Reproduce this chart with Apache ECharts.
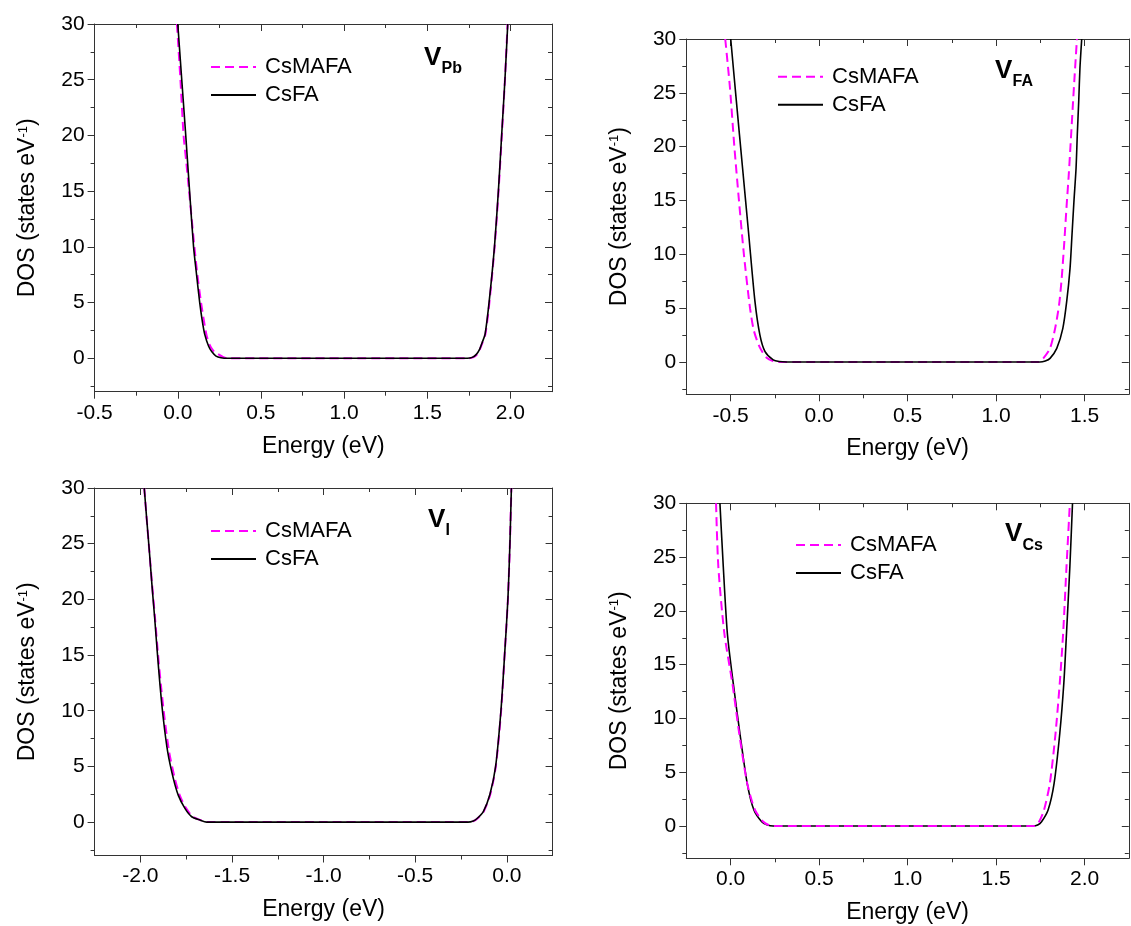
<!DOCTYPE html>
<html>
<head>
<meta charset="utf-8">
<script src="https://cdn.jsdelivr.net/npm/echarts@6/dist/echarts.min.js"></script>
<style>html,body{margin:0;padding:0;background:#fff}#c{width:1131px;height:926px}</style>
</head>
<body>
<div id="c"></div>
<script>
// ---------- DATA (Energy in eV, DOS in states/eV) ----------
// Panel V_Pb
const pbMafaE = [-0.005, 0.016, 0.035, 0.052, 0.068, 0.100, 0.118, 0.140, 0.158, 0.174, 0.192, 0.212, 0.234, 0.274, 0.300, 1.000, 1.745, 1.775, 1.800, 1.815, 1.832, 1.850, 1.875, 1.905, 1.929, 1.949, 1.967, 1.983];
const pbMafaD = [30, 25, 20, 17.5, 15, 10, 7.5, 5, 3.3, 2.0, 1.2, 0.7, 0.45, 0.1, 0, 0, 0, 0.08, 0.35, 0.75, 1.4, 2.2, 5.2, 10, 15.1, 20.2, 25, 30];
const pbFaE = [0.000, 0.024, 0.048, 0.071, 0.095, 0.113, 0.132, 0.148, 0.163, 0.185, 0.204, 0.230, 0.260, 0.300, 1.000, 1.740, 1.770, 1.795, 1.813, 1.830, 1.848, 1.873, 1.904, 1.928, 1.948, 1.967, 1.984];
const pbFaD = [30, 25, 20, 15, 10, 7.5, 5, 3.3, 2.1, 1.1, 0.6, 0.2, 0.05, 0, 0, 0, 0.08, 0.35, 0.75, 1.4, 2.2, 5.2, 10, 15.1, 20.2, 25, 30];
// Panel V_FA
const faMafaE = [-0.530, -0.503, -0.479, -0.452, -0.424, -0.390, -0.368, -0.334, -0.296, -0.260, -0.230, 0.500, 1.240, 1.267, 1.305, 1.333, 1.356, 1.371, 1.385, 1.399, 1.410, 1.421, 1.433, 1.444, 1.457];
const faMafaD = [30, 25.4, 20.1, 14.9, 9.9, 5.0, 2.9, 1.33, 0.4, 0.08, 0, 0, 0, 0.34, 1.27, 3.06, 5.3, 7.8, 11, 14.6, 17.2, 20.2, 23.6, 26.6, 30];
const faFaE = [-0.499, -0.467, -0.432, -0.397, -0.362, -0.334, -0.305, -0.259, -0.225, -0.183, 0.500, 1.248, 1.278, 1.305, 1.343, 1.377, 1.399, 1.418, 1.429, 1.440, 1.452, 1.459, 1.467, 1.474, 1.484];
const faFaD = [30, 24.2, 18.0, 11.8, 5.6, 2.5, 0.96, 0.19, 0.04, 0, 0, 0, 0.1, 0.34, 1.27, 3.1, 5.6, 8.7, 11.8, 14.9, 18.0, 21.1, 24.2, 27.3, 30];
// Panel V_I
const iMafaE = [-1.979, -1.966, -1.951, -1.936, -1.920, -1.905, -1.888, -1.868, -1.843, -1.812, -1.785, -1.750, -1.714, -1.672, -1.635, -1.000, -0.210, -0.182, -0.162, -0.126, -0.090, -0.060, -0.031, -0.012, 0.006, 0.017, 0.025];
const iMafaD = [30, 27.3, 24.3, 21.3, 18.3, 15.3, 12.3, 9.3, 6.3, 3.9, 2.4, 1.23, 0.48, 0.18, 0, 0, 0, 0.1, 0.3, 0.95, 2.5, 5, 10, 15, 20, 25, 30];
const iFaE = [-1.979, -1.966, -1.951, -1.937, -1.922, -1.908, -1.893, -1.875, -1.851, -1.820, -1.793, -1.757, -1.720, -1.675, -1.638, -1.000, -0.212, -0.183, -0.164, -0.128, -0.092, -0.061, -0.032, -0.012, 0.006, 0.017, 0.025];
const iFaD = [30, 27.3, 24.3, 21.3, 18.3, 15.3, 12.3, 9.3, 6.3, 3.9, 2.4, 1.23, 0.48, 0.18, 0, 0, 0, 0.1, 0.3, 0.95, 2.5, 5, 10, 15, 20, 25, 30];
// Panel V_Cs
const csMafaE = [-0.082, -0.069, -0.035, 0.010, 0.049, 0.094, 0.138, 0.185, 0.215, 0.250, 1.000, 1.715, 1.743, 1.771, 1.804, 1.836, 1.860, 1.879, 1.898, 1.917];
const csMafaD = [30, 24.1, 17.9, 13.3, 8.6, 3.97, 1.49, 0.4, 0.1, 0, 0, 0, 0.4, 1.49, 3.97, 8.6, 13.3, 17.9, 24.1, 30];
const csFaE = [-0.060, -0.041, -0.018, 0.015, 0.053, 0.094, 0.132, 0.176, 0.205, 0.241, 1.000, 1.709, 1.735, 1.757, 1.794, 1.828, 1.860, 1.883, 1.898, 1.917, 1.932];
const csFaD = [30, 24.1, 17.9, 13.3, 8.6, 3.97, 1.49, 0.4, 0.12, 0, 0, 0, 0.1, 0.4, 1.49, 3.97, 8.6, 13.3, 17.9, 24.1, 30];

// ---------- TICKS ----------
const yMajorTicks = [0, 5, 10, 15, 20, 25, 30];
const yMinorTicks = [-2.5, 2.5, 7.5, 12.5, 17.5, 22.5, 27.5];
const xMajorPb = [-0.5, 0, 0.5, 1, 1.5, 2];
const xMinorPb = [-0.25, 0.25, 0.75, 1.25, 1.75];
const xMajorFa = [-0.5, 0, 0.5, 1, 1.5];
const xMinorFa = [-0.25, 0.25, 0.75, 1.25];
const xMajorI = [-2, -1.5, -1, -0.5, 0];
const xMinorI = [-1.75, -1.25, -0.75, -0.25];
const xMajorCs = [0, 0.5, 1, 1.5, 2];
const xMinorCs = [0.25, 0.75, 1.25, 1.75];

const seriesNames = ['CsMAFA', 'CsFA'];
const xTitle = 'Energy (eV)';
const yTitle = 'DOS (states eV{sup|-1})';

// ---------- LAYOUT ----------
const FF = 'Arial, "Liberation Sans", sans-serif';
const AX = {color: '#333', width: 1};
const panels = [
  {grid: {left: 94.6, top: 24, width: 457.4, height: 367.7}, xMin: -0.5, xMax: 2.25, xMajor: xMajorPb, xMinor: xMinorPb,
   mafa: [pbMafaE, pbMafaD], fa: [pbFaE, pbFaD], leg: {left: 205, top: 51}, xMargin: 11,
   label: {v: [424, 57.5], sub: 'Pb'}, mafaTop: false},
  {grid: {left: 686.3, top: 39, width: 442.5, height: 355.3}, xMin: -0.75, xMax: 1.75, xMajor: xMajorFa, xMinor: xMinorFa,
   mafa: [faMafaE, faMafaD], fa: [faFaE, faFaD], leg: {left: 772, top: 60.7}, xMargin: 11,
   label: {v: [995, 70.5], sub: 'FA'}, mafaTop: false},
  {grid: {left: 94.6, top: 488, width: 458, height: 367.5}, xMin: -2.25, xMax: 0.25, xMajor: xMajorI, xMinor: xMinorI,
   mafa: [iMafaE, iMafaD], fa: [iFaE, iFaD], leg: {left: 205, top: 515}, xMargin: 10,
   label: {v: [428, 519.5], sub: 'I'}, mafaTop: false},
  {grid: {left: 686.3, top: 503.3, width: 442.5, height: 355}, xMin: -0.25, xMax: 2.25, xMajor: xMajorCs, xMinor: xMinorCs,
   mafa: [csMafaE, csMafaD], fa: [csFaE, csFaD], leg: {left: 790, top: 529}, xMargin: 10,
   label: {v: [1005, 534], sub: 'Cs'}, mafaTop: true}
];

function pts(E, D) { return E.map((e, i) => [e, D[i]]); }

const grids = [], xAxes = [], yAxes = [], series = [], legends = [], graphics = [];
panels.forEach((p, i) => {
  grids.push(Object.assign({outerBoundsMode: 'none', containLabel: false}, p.grid));
  const xb = {gridIndex: i, type: 'value', min: p.xMin, max: p.xMax, splitLine: {show: false}};
  xAxes.push(
    Object.assign({}, xb, {position: 'bottom',
      axisLine: {show: true, onZero: false, lineStyle: AX},
      axisTick: {show: true, inside: false, length: 7, customValues: p.xMajor, lineStyle: AX},
      axisLabel: {show: true, customValues: p.xMajor, formatter: v => Number(v).toFixed(1), fontSize: 21, color: '#000', fontFamily: FF, margin: p.xMargin},
      name: xTitle, nameLocation: 'middle', nameGap: 43, nameTextStyle: {fontSize: 23, color: '#000', fontFamily: FF}}),
    Object.assign({}, xb, {position: 'bottom',
      axisLine: {show: false, onZero: false},
      axisTick: {show: true, inside: false, length: 4, customValues: p.xMinor, lineStyle: AX},
      axisLabel: {show: false}}),
    Object.assign({}, xb, {position: 'top',
      axisLine: {show: true, onZero: false, lineStyle: AX},
      axisTick: {show: true, inside: true, length: 7, customValues: p.xMajor, lineStyle: AX},
      axisLabel: {show: false}}),
    Object.assign({}, xb, {position: 'top',
      axisLine: {show: false, onZero: false},
      axisTick: {show: true, inside: true, length: 4, customValues: p.xMinor, lineStyle: AX},
      axisLabel: {show: false}})
  );
  const yb = {gridIndex: i, type: 'value', min: -3, max: 30, splitLine: {show: false}};
  yAxes.push(
    Object.assign({}, yb, {position: 'left',
      axisLine: {show: true, onZero: false, lineStyle: AX},
      axisTick: {show: true, inside: false, length: 7, customValues: yMajorTicks, lineStyle: AX},
      axisLabel: {show: true, customValues: yMajorTicks, fontSize: 21, color: '#000', fontFamily: FF, margin: 10},
      name: yTitle, nameLocation: 'middle', nameGap: 55,
      nameTextStyle: {fontSize: 23, color: '#000', fontFamily: FF,
        rich: {sup: {fontSize: 13, color: '#000', fontFamily: FF, verticalAlign: 'top', padding: [0, 0, 9, 0]}}}}),
    Object.assign({}, yb, {position: 'left',
      axisLine: {show: false, onZero: false},
      axisTick: {show: true, inside: false, length: 4, customValues: yMinorTicks, lineStyle: AX},
      axisLabel: {show: false}}),
    Object.assign({}, yb, {position: 'right',
      axisLine: {show: true, onZero: false, lineStyle: AX},
      axisTick: {show: true, inside: true, length: 7, customValues: yMajorTicks, lineStyle: AX},
      axisLabel: {show: false}}),
    Object.assign({}, yb, {position: 'right',
      axisLine: {show: false, onZero: false},
      axisTick: {show: true, inside: true, length: 4, customValues: yMinorTicks, lineStyle: AX},
      axisLabel: {show: false}})
  );
  series.push(
    {type: 'line', name: seriesNames[0], xAxisIndex: 4 * i, yAxisIndex: 4 * i, data: pts(p.mafa[0], p.mafa[1]),
     symbol: 'none', smooth: 0.25, z: p.mafaTop ? 4 : 2,
     lineStyle: {color: '#ff00ff', width: 2, type: [9, 5]}, itemStyle: {color: '#ff00ff'}},
    {type: 'line', name: seriesNames[1], xAxisIndex: 4 * i, yAxisIndex: 4 * i, data: pts(p.fa[0], p.fa[1]),
     symbol: 'none', smooth: 0.25, z: 3,
     lineStyle: {color: '#000', width: 1.6}, itemStyle: {color: '#000'}}
  );
  legends.push({orient: 'vertical', left: p.leg.left, top: p.leg.top, data: seriesNames,
    itemWidth: 45, itemHeight: 14, itemGap: 6, selectedMode: false,
    itemStyle: {opacity: 0},
    textStyle: {fontSize: 22, color: '#000', fontFamily: FF, lineHeight: 20, padding: [0, 0, 0, 4]}});
  graphics.push(
    {type: 'text', x: p.label.v[0], y: p.label.v[1], style: {text: 'V', fontSize: 26, fontWeight: 'bold', fontFamily: FF, fill: '#000', align: 'left', verticalAlign: 'middle'}},
    {type: 'text', x: p.label.v[0] + 17.5, y: p.label.v[1] + 11.5, style: {text: p.label.sub, fontSize: 16, fontWeight: 'bold', fontFamily: FF, fill: '#000', align: 'left', verticalAlign: 'middle'}}
  );
});

const chart = echarts.init(document.getElementById('c'), null, {renderer: 'canvas'});
chart.setOption({
  animation: false,
  backgroundColor: '#fff',
  grid: grids,
  xAxis: xAxes,
  yAxis: yAxes,
  legend: legends,
  series: series,
  graphic: graphics
});
</script>
</body>
</html>
